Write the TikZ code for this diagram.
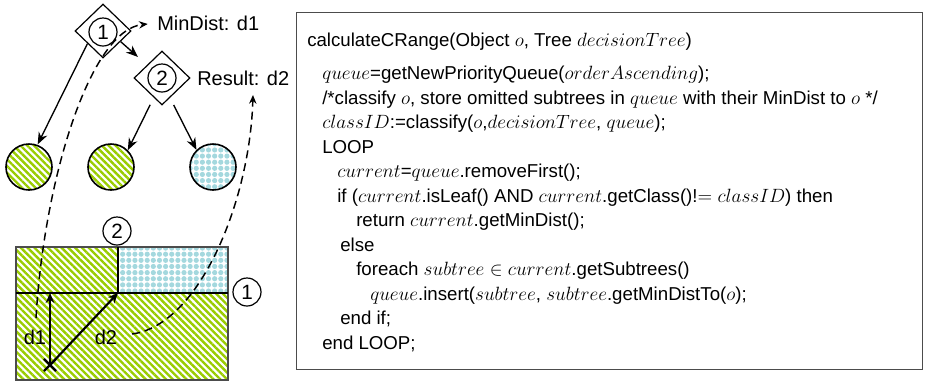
\documentclass[tikz,border=0pt]{standalone}
\usepackage{fontspec}
\setmainfont{Liberation Sans}
\usetikzlibrary{arrows.meta,positioning,shapes.geometric,shapes.misc,patterns.meta,calc}
\definecolor{leafgreen}{HTML}{99CC00}
\definecolor{leafblue}{HTML}{A4D8DE}

\begin{document}
\begin{tikzpicture}[x=0.75pt, y=-0.75pt,
    dnode/.style={diamond, draw, line width=0.9pt, minimum width=42pt, minimum height=40.5pt, inner sep=0pt},
    numc/.style={circle, draw, line width=0.9pt, minimum size=21pt, inner sep=0pt, font=\fontsize{15.5}{15.5}\selectfont},
    gstripes/.style={pattern={Lines[angle=-45, distance=3.6pt, line width=1.8pt]}, pattern color=leafgreen},
    bdots/.style={pattern={Dots[radius=1.95pt, distance=4.6pt]}, pattern color=leafblue},
    leaf/.style={circle, draw, line width=1.2pt, minimum size=34.5pt, inner sep=0pt},
    lbl/.style={font=\fontsize{15}{15}\selectfont, inner sep=0pt},
    code/.style={anchor=base west, inner sep=0pt, font=\fontsize{14}{14}\selectfont},
    arrow/.style={-{Stealth[length=9pt, width=7pt]}, line width=1pt},
    darrow/.style={-{Stealth[length=6.5pt, width=5.5pt]}, line width=1.1pt, dash pattern=on 6pt off 3.75pt},
    marrow/.style={-{Stealth[length=7.5pt, width=6.5pt]}, line width=1.6pt},
    bound/.style={line width=1.6pt}
]
    \useasboundingbox (0,0) rectangle (929,383);

    % decision tree
    \node[dnode] (d1) at (103,31) {};
    \node[numc] (n1) at (103,32) {1};
    \node[dnode] (d2) at (162,78) {};
    \node[numc] (n2) at (162,78) {2};
    \node[lbl, anchor=west] (mind) at (157,23) {MinDist: d1};
    \node[lbl, anchor=west] (res) at (197,78) {Result: d2};
    \node[leaf, gstripes] (l1) at (29,167) {};
    \node[leaf, gstripes] (l2) at (111,167) {};
    \node[leaf, bdots] (l3) at (213,167) {};

    \draw[arrow] (d1.219) -- (l1.69);
    \draw[arrow, shorten >=9pt] (d1.329) -- (d2.139);
    \draw[arrow, shorten <=6pt] (d2.247) -- (l2.45);
    \draw[arrow, shorten <=6pt] (d2.292) -- (l3.134);

    % data space
    \path[gstripes] (16,247) rectangle (118,293);
    \path[bdots] (118,247) rectangle (228,293);
    \path[gstripes] (16,293) rectangle (228,380);
    \draw[line width=0.8pt, black!70] (16,247) rectangle (228,380);
    \draw[bound] (16,293) -- (228,293);
    \draw[bound] (118,247) -- (118,293);
    \node[numc] (r2) at (117,231) {2};
    \node[numc] (r1) at (247,292) {1};

    \node[cross out, draw, line width=1.6pt, minimum size=7.5pt, inner sep=0pt] (obj) at (50,365) {};
    \coordinate (p1) at (50,293);
    \coordinate (p2) at (118,293);
    \draw[marrow] (obj.center) -- (p1);
    \draw[marrow] (obj.center) -- (p2);
    \node[lbl] (ld1) at (35,337) {d1};
    \node[lbl] (ld2) at (106,337) {d2};

    % dashed links
    \coordinate (sa) at (36,318);
    \coordinate (sb) at (132,334);
    \coordinate (tb) at (253,95);
    \draw[darrow, shorten >=7pt] (sa) .. controls (44,180) and (90,30) .. (mind.west);
    \draw[darrow] (sb) .. controls (200,325) and (250,200) .. (tb);

    % algorithm
    \node[draw=black!70, line width=0.8pt, anchor=north west, minimum width=469.5pt, minimum height=268pt, inner sep=0pt] (box) at (296,12) {};
    \node[code] (c0) at (307,46.5) {calculateCRange(Object $o$, Tree $decisionTree$)};
    \node[code] (c1) at (322,79.5) {$queue$=getNewPriorityQueue($orderAscending$);};
    \node[code] (c2) at (322,104) {/*classify $o$, store omitted subtrees in $queue$ with their MinDist to $o$ */};
    \node[code] (c3) at (322,128.5) {$classID$:=classify($o$,$decisionTree$, $queue$);};
    \node[code] (c4) at (322,153) {LOOP};
    \node[code] (c5) at (337,177.5) {$current$=$queue$.removeFirst();};
    \node[code] (c6) at (337,202) {if ($current$.isLeaf() AND $current$.getClass()!$= classID$) then};
    \node[code] (c7) at (356,226.5) {return $current$.getMinDist();};
    \node[code] (c8) at (340,251) {else};
    \node[code] (c9) at (356,275.5) {foreach $subtree \in current$.getSubtrees()};
    \node[code] (c10) at (370,300) {$queue$.insert($subtree$, $subtree$.getMinDistTo($o$);};
    \node[code] (c11) at (340,324.5) {end if;};
    \node[code] (c12) at (322,349) {end LOOP;};
\end{tikzpicture}
\end{document}
